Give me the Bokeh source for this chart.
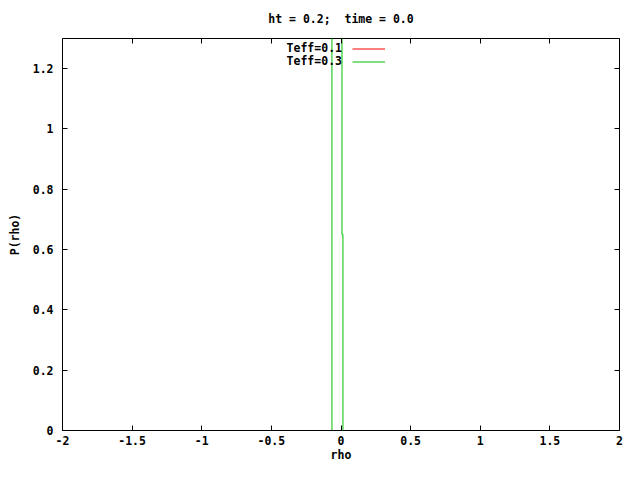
from bokeh.plotting import figure
from bokeh.models import (Range1d, FixedTicker, LinearAxis, Legend, LegendItem, Label,
                          CustomLabelingPolicy)
from bokeh.embed import file_html
from bokeh.resources import INLINE

# ---- data ----
# Teff=0.1 is fully hidden beneath Teff=0.3 in the reference
rho_teff01 = [-0.065, -0.065, 0.007, 0.007, 0.014, 0.014]
p_teff01 = [0.0, 3.0, 3.0, 0.65, 0.65, 0.0]
rho_teff03 = [-0.065, -0.065, 0.007, 0.007, 0.014, 0.014]
p_teff03 = [0.0, 3.0, 3.0, 0.65, 0.65, 0.0]

x_ticks = [-2, -1.5, -1, -0.5, 0, 0.5, 1, 1.5, 2]
x_tick_labels = ["-2", "-1.5", "-1", "-0.5", "0", "0.5", "1", "1.5", "2"]
y_ticks = [0, 0.2, 0.4, 0.6, 0.8, 1.0, 1.2]
y_tick_labels = ["0", "0.2", "0.4", "0.6", "0.8", "1", "1.2"]

series_labels = ["Teff=0.1", "Teff=0.3"]
series_colors = ["#ff0000", "#00c000"]

FONT = "DejaVu Sans Mono"
FS = "11.5px"

p = figure(width=624, height=464, output_backend="svg", toolbar_location=None,
           x_range=Range1d(-2, 2), y_range=Range1d(0, 1.3),
           min_border_left=62, min_border_right=4, min_border_top=38, min_border_bottom=30,
           title="ht = 0.2;\u00a0 time = 0.0")
p.title.text_font = FONT
p.title.text_font_size = FS
p.title.text_font_style = "bold"
p.title.text_color = "black"
p.title.align = "center"
p.title.standoff = 17

p.xgrid.visible = False
p.ygrid.visible = False
p.outline_line_color = "black"
p.outline_line_width = 1
p.background_fill_color = "white"
p.border_fill_color = "white"

def style_axis(ax, ticks, labels, show_labels=True):
    ax.ticker = FixedTicker(ticks=ticks)
    ax.major_label_overrides = {t: l for t, l in zip(ticks, labels)}
    ax.major_tick_in = 5
    ax.major_tick_out = 0
    ax.minor_tick_in = 0
    ax.minor_tick_out = 0
    ax.major_tick_line_color = "black"
    ax.axis_line_color = None
    ax.major_label_text_font = FONT
    ax.major_label_text_font_size = FS if show_labels else "1px"
    ax.major_label_text_font_style = "bold"
    ax.major_label_text_color = "black"
    ax.axis_label_text_font = FONT
    ax.axis_label_text_font_size = FS
    ax.axis_label_text_font_style = "bold"
    ax.axis_label_text_color = "black"
    if not show_labels:
        ax.major_label_policy = CustomLabelingPolicy(code="return new Set()")
        ax.major_label_standoff = 0

xa = p.xaxis[0]
style_axis(xa, x_ticks, x_tick_labels)
xa.axis_label = "rho"
xa.major_label_standoff = 5
xa.axis_label_standoff = 0

ya = p.yaxis[0]
style_axis(ya, y_ticks, y_tick_labels)
ya.axis_label = "P(rho)"
ya.major_label_standoff = 9
ya.axis_label_standoff = 8
ya.major_label_orientation = "horizontal"

top = LinearAxis()
style_axis(top, x_ticks, x_tick_labels, show_labels=False)
p.add_layout(top, "above")
right = LinearAxis()
style_axis(right, y_ticks, y_tick_labels, show_labels=False)
p.add_layout(right, "right")

r1 = p.line(rho_teff01, p_teff01, line_color=series_colors[0], line_width=1)
r1.visible = False  # covered by Teff=0.3 in the reference
r2 = p.line(rho_teff03, p_teff03, line_color=series_colors[1], line_width=1)

legend = Legend(items=[LegendItem(label="", renderers=[r1]),
                       LegendItem(label="", renderers=[r2])],
                location=(290, 362), padding=0, margin=0, spacing=0,
                glyph_width=33, glyph_height=13, label_height=13, label_width=0,
                label_standoff=0, border_line_color=None, background_fill_alpha=0)
p.add_layout(legend, "center")

for lab, yy in zip(series_labels, [1.267, 1.224]):
    p.add_layout(Label(x=0.007, y=yy, text=lab, text_align="right", text_baseline="middle",
                       text_font=FONT, text_font_size=FS, text_font_style="bold",
                       text_color="black"))

open("out.html", "w").write(file_html(p, INLINE))
